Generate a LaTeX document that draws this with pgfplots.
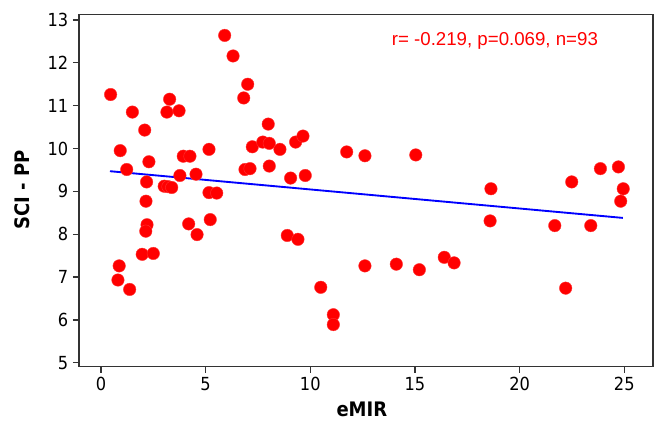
\documentclass[border=0pt]{standalone}
\usepackage{pgfplots}
\pgfplotsset{compat=1.18}
\usepackage{fontspec}
\setmainfont{DejaVu Sans Condensed}
\newfontfamily\annfont{Liberation Sans}

\pgfplotstableread{
x y
0.46 11.26
0.92 9.95
1.23 9.51
1.50 10.85
2.09 10.43
2.29 9.69
2.18 9.22
2.15 8.77
2.20 8.22
2.14 8.07
1.97 7.53
2.50 7.55
0.87 7.26
0.81 6.93
1.37 6.71
3.15 10.85
3.28 11.15
3.73 10.88
3.93 9.82
4.25 9.82
3.77 9.37
4.54 9.40
3.02 9.12
3.20 9.11
3.38 9.09
5.16 9.98
5.16 8.97
5.53 8.96
4.19 8.24
4.59 7.99
5.22 8.34
5.91 12.64
6.31 12.16
6.82 11.18
7.01 11.50
7.23 10.04
6.88 9.51
7.12 9.53
7.99 10.57
7.73 10.15
8.04 10.12
8.55 9.98
9.30 10.15
9.65 10.29
8.04 9.59
9.06 9.31
9.76 9.37
11.74 9.92
12.61 9.83
15.04 9.85
8.90 7.97
9.41 7.88
10.50 6.76
11.10 6.12
11.10 5.89
12.61 7.26
14.11 7.30
15.21 7.17
16.40 7.46
16.87 7.33
18.63 9.06
18.59 8.31
21.68 8.20
22.20 6.74
23.40 8.20
22.49 9.22
24.95 9.06
24.83 8.77
23.86 9.53
24.72 9.57
}\scatterdata

\begin{document}
\begin{tikzpicture}
\begin{axis}[
  name=ax,
  scale only axis,
  width=430.3pt,
  height=264pt,
  xmin=-1.05, xmax=26.36,
  ymin=4.907, ymax=13.124,
  xtick={0,5,10,15,20,25},
  ytick={5,6,...,13},
  tick align=outside,
  major tick length=4.5pt,
  xtick pos=bottom,
  ytick pos=left,
  axis line style={black!80, line width=1.2pt},
  every tick/.style={black!80, line width=1pt},
  tick label style={font=\fontsize{13.5}{15}\selectfont},
  /pgf/number format/assume math mode=true,
  xlabel={eMIR},
  ylabel={SCI - PP},
  label style={font=\bfseries\fontsize{15}{18}\selectfont},
  xlabel style={at={(axis description cs:0.493,-0.122)}, anchor=center},
  ylabel style={at={(axis description cs:-0.099,0.502)}, anchor=center, rotate=0},
  clip=false,
]
\addplot[only marks, mark=*, mark size=4.7pt,
  mark options={fill=red, draw=red!80!white, line width=0.3pt}]
  table[x=x, y=y] {\scatterdata};
\addplot[blue, line width=1.4pt] coordinates {(0.43,9.47) (24.93,8.38)};
\node[red, font=\annfont\fontsize{14}{16}\selectfont] at (axis cs:18.82,12.52) {r= -0.219, p=0.069, n=93};
\end{axis}
\pgfresetboundingbox
\path[use as bounding box] ([xshift=-59.25pt,yshift=-43pt]ax.south west) rectangle ([xshift=4.7pt,yshift=11pt]ax.north east);
\end{tikzpicture}
\end{document}
